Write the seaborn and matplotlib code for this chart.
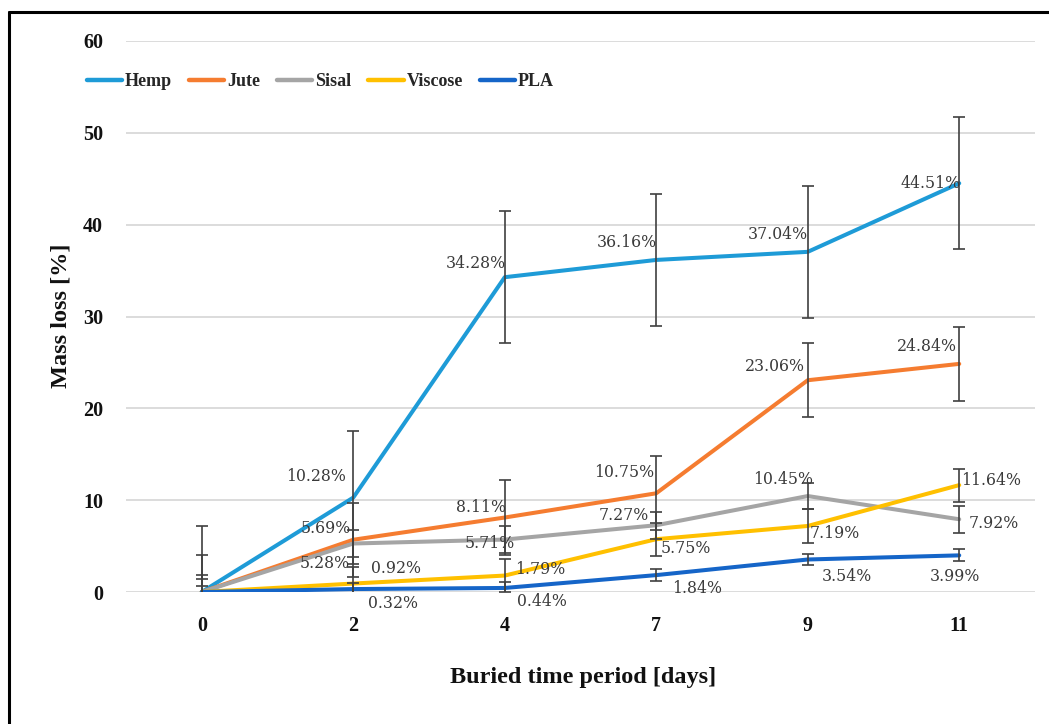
import matplotlib
matplotlib.use("Agg")
import matplotlib.pyplot as plt
import matplotlib.lines as mlines
import seaborn as sns
import pandas as pd
import numpy as np

# ---- data ----
days = ["0", "2", "4", "7", "9", "11"]
series_names = ["Hemp", "Jute", "Sisal", "Viscose", "PLA"]
hemp = [0, 10.28, 34.28, 36.16, 37.04, 44.51]
jute = [0, 5.69, 8.11, 10.75, 23.06, 24.84]
sisal = [0, 5.28, 5.71, 7.27, 10.45, 7.92]
viscose = [0, 0.92, 1.79, 5.75, 7.19, 11.64]
pla = [0, 0.32, 0.44, 1.84, 3.54, 3.99]
hemp_err = 7.2
jute_err = 4.05
sisal_err = 1.45
viscose_err = 1.8
pla_err = 0.65

values = {"Hemp": hemp, "Jute": jute, "Sisal": sisal, "Viscose": viscose, "PLA": pla}
errors = {"Hemp": hemp_err, "Jute": jute_err, "Sisal": sisal_err,
          "Viscose": viscose_err, "PLA": pla_err}

# ---- styles ----
colors = {"Hemp": "#1E9BD7", "Jute": "#F57C30", "Sisal": "#A5A5A5",
          "Viscose": "#FFC000", "PLA": "#1565C8"}
# label offsets in pixels (dx, dy) per point index 1..5
label_offsets = {
    "Hemp": [(-37, 21), (-29, 14), (-29, 17), (-30, 17), (-29, 0)],
    "Jute": [(-27, 11), (-24, 10), (-32, 21), (-33, 14), (-32, 17)],
    "Sisal": [(-29, -20), (-15, -4), (-33, 10), (-25, 17), (35, -4)],
    "Viscose": [(43, 15), (35, 6), (30, -9), (27, -8), (32, 5)],
    "PLA": [(40, -14), (37, -14), (41, -13), (39, -17), (-4, -21)],
}

sns.set_theme(style="white")
plt.rcParams["font.family"] = ["Liberation Serif", "DejaVu Serif"]

W, H = 1049, 724
fig = plt.figure(figsize=(W / 100, H / 100), dpi=100)
left, right, top, bottom = 126, 1035, 41, 592
ax = fig.add_axes([left / W, (H - bottom) / H, (right - left) / W, (bottom - top) / H])

rows = []
for name in series_names:
    for d, v in zip(days, values[name]):
        rows.append({"day": d, "loss": v, "fiber": name})
df = pd.DataFrame(rows)

sns.lineplot(data=df, x="day", y="loss", hue="fiber", hue_order=series_names,
             palette=colors, linewidth=2.9, sort=False, legend=False, ax=ax,
             zorder=2)

xpos = np.arange(len(days))
for name in series_names:
    ax.errorbar(xpos, values[name], yerr=errors[name], fmt="none",
                ecolor="#404040", elinewidth=1.2, capsize=4.5, capthick=1.2,
                zorder=3)

for name in series_names:
    for i in range(1, len(days)):
        dx, dy = label_offsets[name][i - 1]
        ax.annotate(f"{values[name][i]:.2f}%", (xpos[i], values[name][i]),
                    xytext=(dx, dy), textcoords="offset pixels",
                    ha="center", va="center", fontsize=11.3,
                    family="DejaVu Serif", color="#3a3a3a", zorder=4)

ax.set_xlim(-0.5, len(days) - 0.5)
ax.set_ylim(0, 60)
ax.set_yticks(range(0, 61, 10))
ax.set_xticks(xpos)
ax.set_xticklabels(days)
ax.grid(axis="y", color="#D9D9D9", linewidth=1.3)
ax.grid(axis="x", visible=False)
ax.set_axisbelow(True)
for s in ax.spines.values():
    s.set_visible(False)
ax.tick_params(axis="y", length=0, pad=16.5, labelsize=14.5)
ax.tick_params(axis="x", length=0, pad=17.5, labelsize=14.5)
for lab in ax.get_xticklabels() + ax.get_yticklabels():
    lab.set_fontweight("bold")
    lab.set_color("#111111")

ax.set_xlabel("Buried time period [days]", fontsize=17.5, fontweight="bold", color="#111111")
ax.set_ylabel("Mass loss [%]", fontsize=17.5, fontweight="bold", color="#111111")
ax.xaxis.set_label_coords((583 - left) / (right - left), -(677 - bottom) / (bottom - top))
ax.xaxis.label.set_va("center")
ax.yaxis.set_label_coords(-(left - 61) / (right - left), (592 - 316) / (bottom - top))
ax.yaxis.label.set_va("center")

handles = [mlines.Line2D([], [], color=colors[n], linewidth=3.2, solid_capstyle="round")
           for n in series_names]
leg = fig.legend(handles, series_names, loc="center left",
                 bbox_to_anchor=(87 / W, 1 - 82 / H), ncol=5, frameon=False,
                 prop={"family": "Liberation Serif", "weight": "bold", "size": 13},
                 handlelength=1.95, handletextpad=0.15, columnspacing=0.95,
                 borderaxespad=0, borderpad=0)

# figure border (top and left visible)
fig.add_artist(mlines.Line2D([9 / W, 1.0], [1 - 12 / H, 1 - 12 / H],
                             transform=fig.transFigure, color="black", linewidth=2.2))
fig.add_artist(mlines.Line2D([9 / W, 9 / W], [0, 1 - 12 / H],
                             transform=fig.transFigure, color="black", linewidth=2.2))

fig.savefig("out.png", dpi=100)
